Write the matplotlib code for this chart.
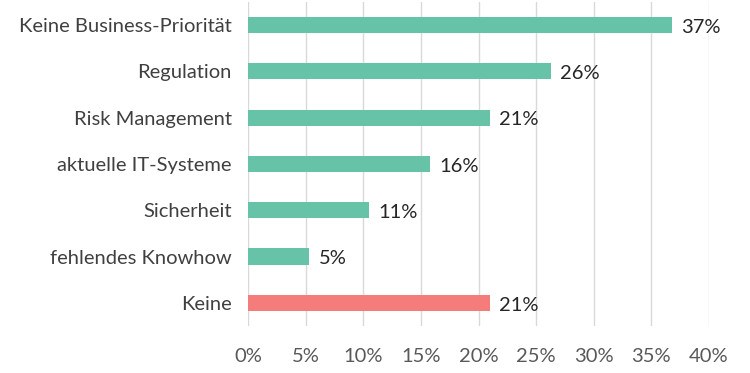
import matplotlib.pyplot as plt

plt.rcParams['font.family'] = ['Lato', 'DejaVu Sans']

categories = ["Keine Business-Priorität", "Regulation", "Risk Management",
              "aktuelle IT-Systeme", "Sicherheit", "fehlendes Knowhow", "Keine"]
values = [36.8, 26.3, 21.0, 15.8, 10.5, 5.3, 21.0]
value_labels = ["37%", "26%", "21%", "16%", "11%", "5%", "21%"]
colors = ["#66c3a7"] * 6 + ["#f47c7a"]

fig = plt.figure(figsize=(7.5, 3.73), dpi=100)
ax = fig.add_axes([0.331, 0.126, 0.614, 0.869])

y = list(range(len(categories)))
ax.barh(y, values, height=0.35, color=colors, zorder=3)
for yi, v, lab in zip(y, values, value_labels):
    ax.text(v + 0.8, yi + 0.05, lab, va="center", ha="left", fontsize=14.5, color="#262626")

ax.set_yticks(y)
ax.set_yticklabels(categories, fontsize=14.5, color="#404040")
ax.set_ylim(len(categories) - 0.5, -0.5)
ax.set_xlim(0, 40)
ax.set_xticks(range(0, 41, 5))
ax.set_xticklabels([f"{t}%" for t in range(0, 41, 5)], fontsize=14.5, color="#595959")
ax.grid(axis="x", color="#d9d9d9", linewidth=1, zorder=0)
ax.tick_params(axis="x", length=0, pad=16)
ax.tick_params(axis="y", length=0, pad=12)
for s in ax.spines.values():
    s.set_visible(False)

fig.savefig("out.png", dpi=100)
